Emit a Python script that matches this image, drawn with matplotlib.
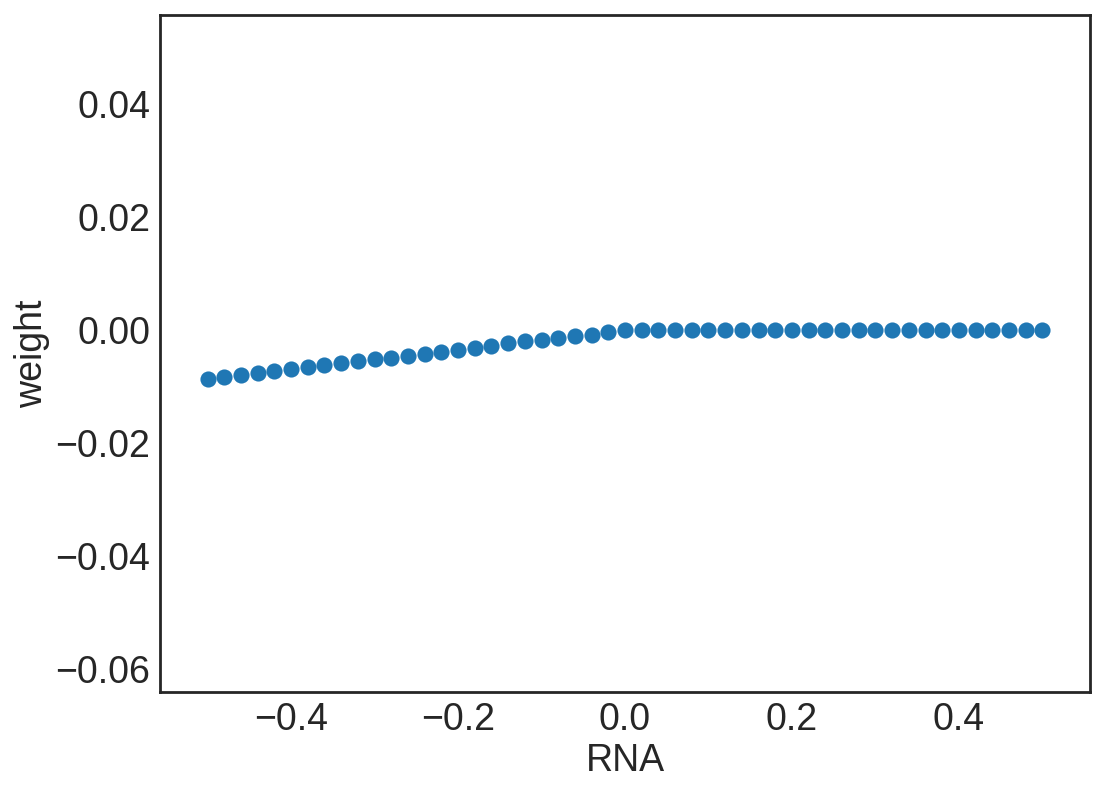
import numpy as np
import matplotlib
matplotlib.use("Agg")
import matplotlib.pyplot as plt
import seaborn as sns

# RNA values and fitted weights
rna = [round(-0.5 + 0.02 * i, 2) for i in range(51)]
weight_neg = [-0.00855, -0.00826, -0.00791, -0.00755, -0.0072, -0.00685,
              -0.00655, -0.0062, -0.00584, -0.00549, -0.00513, -0.00484,
              -0.00448, -0.00413, -0.00377, -0.00342, -0.00313, -0.00271,
              -0.00230, -0.00195, -0.00165, -0.00136, -0.00106, -0.00077,
              -0.00035]
weight_pos = [0.0] * 26
weight = weight_neg + weight_pos

sns.set_style("white")
plt.rcParams["font.family"] = ["Liberation Sans", "DejaVu Sans"]

fig = plt.figure(figsize=(11.06, 7.94), dpi=100)
ax = fig.add_axes([160 / 1106, 1 - 692 / 794, 930 / 1106, 677 / 794])
ax.scatter(rna, weight, s=135, color="#1f77b4", linewidths=0)

ax.set_xlim(-0.557, 0.557)
ax.set_ylim(-0.0640, 0.0558)
ax.set_xticks([-0.4, -0.2, 0.0, 0.2, 0.4])
ax.set_yticks([-0.06, -0.04, -0.02, 0.0, 0.02, 0.04])
ax.tick_params(labelsize=27, colors=".15")
ax.set_xlabel("RNA", fontsize=27, color=".15")
ax.set_ylabel("weight", fontsize=27, color=".15")
for sp in ax.spines.values():
    sp.set_linewidth(2)
    sp.set_color(".15")

fig.savefig("out.png", dpi=100)
